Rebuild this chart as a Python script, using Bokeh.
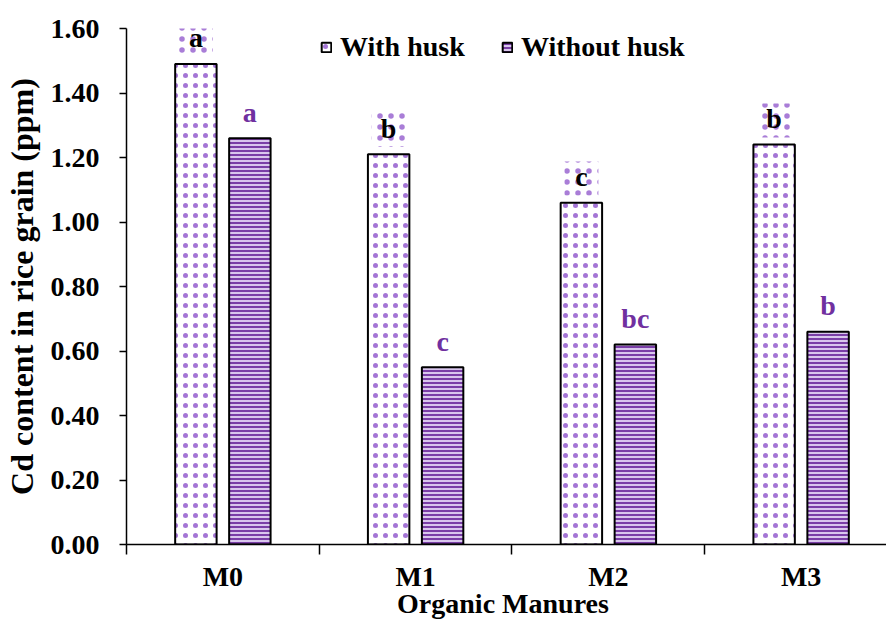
from bokeh.plotting import figure
from bokeh.models import (ColumnDataSource, FixedTicker, SingleIntervalTicker,
                          NumeralTickFormatter, Legend, LegendItem, Range1d)
from bokeh.core.properties import value
from bokeh.embed import file_html
from bokeh.resources import INLINE

# Cd content (ppm) in rice grain for each organic manure treatment
manures = ["M0", "M1", "M2", "M3"]
with_husk = [1.49, 1.21, 1.06, 1.24]
without_husk = [1.26, 0.55, 0.62, 0.66]
letters_with = ["a", "b", "c", "b"]
letters_without = ["a", "c", "bc", "b"]

FONT = "Liberation Serif"
PURPLE = "#7030a0"
DOT = "#9a66d0"

idx = list(range(len(manures)))
x_with = [i + 0.36 for i in idx]
x_without = [i + 0.64 for i in idx]

src_with = ColumnDataSource(dict(x=x_with, top=with_husk, label=letters_with))
src_without = ColumnDataSource(dict(x=x_without, top=without_husk, label=letters_without))

p = figure(width=886, height=621, output_backend="svg", toolbar_location=None,
           x_range=Range1d(0, 3.943), y_range=Range1d(0, 1.6),
           min_border_left=125, min_border_right=0, min_border_top=28,
           min_border_bottom=76)
p.outline_line_color = None
p.xgrid.visible = False
p.ygrid.visible = False
p.background_fill_color = "white"
p.border_fill_color = "white"

bar_w = 0.215
r_with = p.vbar(x="x", top="top", width=bar_w, source=src_with,
                fill_color="white", line_color="black", line_width=2,
                hatch_pattern="dot", hatch_color=DOT, hatch_scale=10,
                hatch_weight=1.6, hatch_alpha=0.9)
r_without = p.vbar(x="x", top="top", width=bar_w, source=src_without,
                   fill_color="#d9c6ed", line_color="black", line_width=2,
                   hatch_pattern="horizontal_line", hatch_color=PURPLE,
                   hatch_scale=4, hatch_weight=2, hatch_alpha=0.9)

# dotted backdrop behind the black significance letters
box_y = [v + 0.075 for v in with_husk]
p.scatter(x=x_with, y=box_y, marker="square", size=34, fill_alpha=0,
          line_color=None, hatch_pattern="dot", hatch_color=DOT,
          hatch_scale=11, hatch_weight=1.2, hatch_alpha=0.85)

p.text(x="x", y="top", text="label", source=src_with, y_offset=-26,
       text_align="center", text_baseline="alphabetic", text_color="black",
       text_font=value(FONT), text_font_style="bold", text_font_size="28px")
p.text(x="x", y="top", text="label", source=src_without, y_offset=-26,
       text_align="center", text_baseline="alphabetic", text_color=PURPLE,
       text_font=value(FONT), text_font_style="bold", text_font_size="28px")

# y axis
ya = p.yaxis[0]
ya.ticker = SingleIntervalTicker(interval=0.2, num_minor_ticks=0)
ya.formatter = NumeralTickFormatter(format="0.00")
ya.axis_label = "Cd content in rice grain (ppm)"
ya.axis_label_text_font = FONT
ya.axis_label_text_font_style = "bold"
ya.axis_label_text_font_size = "32px"
ya.axis_label_text_color = "black"
ya.axis_label_standoff = 8
ya.major_label_text_font = FONT
ya.major_label_text_font_style = "bold"
ya.major_label_text_font_size = "28px"
ya.major_label_text_color = "black"
ya.major_label_standoff = 20
ya.major_tick_out = 7
ya.major_tick_in = 0
ya.minor_tick_out = 0
ya.axis_line_width = 1.5
ya.major_tick_line_width = 1.5
ya.axis_line_color = "black"
ya.major_tick_line_color = "black"

# x axis: names centred in each group, ticks on group boundaries
xa = p.xaxis[0]
centers = [i + 0.5 for i in idx]
xa.ticker = FixedTicker(ticks=centers, minor_ticks=list(range(len(manures) + 1)))
xa.major_label_overrides = {c: m for c, m in zip(centers, manures)}
xa.major_tick_out = 0
xa.major_tick_in = 0
xa.minor_tick_out = 10
xa.minor_tick_in = 0
xa.minor_tick_line_width = 1.5
xa.minor_tick_line_color = "black"
xa.axis_line_width = 1.5
xa.axis_line_color = "black"
xa.major_label_standoff = 6
xa.major_label_text_font = FONT
xa.major_label_text_font_style = "bold"
xa.major_label_text_font_size = "28px"
xa.major_label_text_color = "black"
xa.axis_label = "Organic  Manures"
xa.axis_label_text_font = FONT
xa.axis_label_text_font_style = "bold"
xa.axis_label_text_font_size = "28px"
xa.axis_label_text_color = "black"
xa.axis_label_standoff = -7

legend = Legend(items=[LegendItem(label="With husk", renderers=[r_with]),
                       LegendItem(label="Without husk", renderers=[r_without])],
                orientation="horizontal", location=(194, 481),
                glyph_width=12, glyph_height=12, label_standoff=8, spacing=1,
                label_width=160, label_height=32, padding=0, margin=0,
                border_line_color=None, background_fill_alpha=0,
                label_text_font=FONT, label_text_font_style="bold",
                label_text_font_size="28px", label_text_color="black")
p.add_layout(legend)

open("out.html", "w").write(file_html(p, INLINE))
